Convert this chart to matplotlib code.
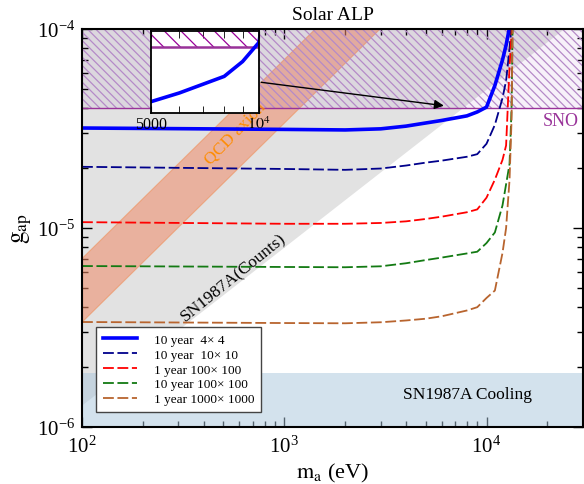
import numpy as np
import matplotlib as mpl
mpl.use('Agg')
import matplotlib.pyplot as plt
from matplotlib.ticker import LogLocator, NullFormatter, FixedLocator, FixedFormatter

mpl.rcParams.update({'font.family': 'serif',
                     'font.serif': ['Liberation Serif', 'DejaVu Serif'],
                     'mathtext.fontset': 'stix',
                     'hatch.linewidth': 0.9})

# axion mass grid (eV) for the sensitivity curves
mass = [100, 1000, 2000, 3000, 4000, 5000, 6000, 8000, 9000, 1.0e4, 1.1e4, 1.2e4, 1.25e4, 1.3e4, 1.33e4, 1.35e4]

g_10y_4 = [3.18e-5, 3.13e-5, 3.11e-5, 3.15e-5, 3.25e-5, 3.37e-5, 3.47e-5, 3.66e-5, 3.83e-5, 4.05e-5, 5.2e-5, 7.0e-5, 8.3e-5, 1.02e-4, 1.2e-4, 1.4e-4]
g_10y_10 = [2.03e-5, 1.98e-5, 1.96e-5, 1.99e-5, 2.06e-5, 2.13e-5, 2.18e-5, 2.28e-5, 2.35e-5, 2.65e-5, 3.3e-5, 4.5e-5, 5.5e-5, 8.0e-5, 1.05e-4, 1.3e-4]
g_1y_100 = [1.07e-5, 1.05e-5, 1.05e-5, 1.06e-5, 1.08e-5, 1.11e-5, 1.14e-5, 1.2e-5, 1.24e-5, 1.42e-5, 1.75e-5, 2.2e-5, 2.6e-5, 6.5e-5, 9.5e-5, 1.3e-4]
g_10y_100 = [6.44e-6, 6.37e-6, 6.35e-6, 6.42e-6, 6.65e-6, 6.9e-6, 7.1e-6, 7.45e-6, 7.6e-6, 8.4e-6, 9.5e-6, 1.3e-5, 1.66e-5, 2.1e-5, 4.0e-5, 1.3e-4]
g_1y_1000 = [3.37e-6, 3.33e-6, 3.32e-6, 3.36e-6, 3.43e-6, 3.5e-6, 3.6e-6, 3.85e-6, 4.0e-6, 4.45e-6, 4.85e-6, 7.5e-6, 1.0e-5, 1.75e-5, 3.5e-5, 1.3e-4]

labels = ["10 year  4× 4", "10 year  10× 10", "1 year 100× 100", "10 year 100× 100", "1 year 1000× 1000"]
colors = ["#0000ff", "#00008b", "#ff0000", "#137a13", "#b8642e"]

# existing bounds
sno_g = 4e-5
solar_top = 1e-4
cooling_g = 1.87e-6
counts_m = [100, 2.43e4]
counts_g = [1.28e-6, 1e-4]
qcd_m = [100, 3000]
qcd_lo = [3.4e-6, 1.02e-4]
qcd_hi = [7.1e-6, 2.13e-4]

xlim = (100, 3e4)
ylim = (1e-6, 1e-4)


def draw_bounds(ax, gray, hatch, hatch_col, face_alpha, sno_lw):
    ax.fill([counts_m[0], counts_m[1], counts_m[0]], [counts_g[0], counts_g[1], counts_g[1]],
            color=gray, lw=0, zorder=1)
    if face_alpha > 0:
        ax.fill_between(xlim, [sno_g, sno_g], [solar_top, solar_top], color='#9b59b6',
                        alpha=face_alpha, lw=0, zorder=3)
    ax.fill_between(xlim, [sno_g, sno_g], [solar_top, solar_top], facecolor='none',
                    edgecolor=hatch_col, hatch=hatch, lw=0, zorder=3)
    ax.axhline(sno_g, color='#993399', lw=sno_lw, zorder=4)


fig = plt.figure(figsize=(5.84, 4.85), dpi=100)
ax = fig.add_axes([82/584, 1-428/485, 501/584, 398/485])

draw_bounds(ax, '#e2e2e2', '\\\\\\\\', '#b58ac8', 0.08, 1.0)
ax.fill_between(xlim, [ylim[0], ylim[0]], [cooling_g, cooling_g], color='#a9c6dc', alpha=0.5, lw=0, zorder=2)
ax.fill_between(qcd_m, qcd_lo, qcd_hi, facecolor='#f08a66', alpha=0.55, edgecolor='#f08a50', lw=0.8, zorder=2)

series = [g_10y_4, g_10y_10, g_1y_100, g_10y_100, g_1y_1000]
for i, g in enumerate(series):
    if i == 0:
        ax.plot(mass, g, color=colors[i], lw=2.6, label=labels[i], zorder=6)
    else:
        ax.plot(mass, g, color=colors[i], lw=1.3, dashes=(6, 2), label=labels[i], zorder=6)

ax.set_xscale('log')
ax.set_yscale('log')
ax.set_xlim(*xlim)
ax.set_ylim(*ylim)
ax.tick_params(which='both', direction='in', top=True, right=True, labelsize=15)
ax.tick_params(which='major', length=7, width=1)
ax.tick_params(which='minor', length=4, width=1)
ax.tick_params(axis='y', pad=5)
ax.tick_params(axis='x', pad=6)
ax.xaxis.set_minor_locator(LogLocator(base=10, subs=np.arange(2, 10)))
ax.yaxis.set_minor_locator(LogLocator(base=10, subs=np.arange(2, 10)))
ax.xaxis.set_minor_formatter(NullFormatter())
ax.yaxis.set_minor_formatter(NullFormatter())
for sp in ax.spines.values():
    sp.set_linewidth(1.5)
    sp.set_zorder(10)

ax.set_xlabel(r'$\mathrm{m_a}$ (eV)', fontsize=16, labelpad=3)
ax.set_ylabel(r'$\mathrm{g_{ap}}$', fontsize=18, labelpad=2)

ax.text(0.5, 1.015, 'Solar ALP', transform=ax.transAxes, ha='center', va='bottom', fontsize=14)
ax.text(1.9e4, 3.45e-5, 'SNO', color='#993399', fontsize=13, ha='left', va='center')
ax.text(8050, 1.47e-6, 'SN1987A Cooling', fontsize=12.5, ha='center', va='center', zorder=5)
ax.text(561, 5.68e-6, 'SN1987A(Counts)', fontsize=12.5, ha='center', va='center', rotation=39, zorder=5)
ax.text(570, 3.0e-5, 'QCD axion', color='#ff8c00', fontsize=12.5, ha='center', va='center', rotation=46, zorder=5)

ax.annotate('', xy=(6350, 4.1e-5), xytext=(745, 5.42e-5),
            arrowprops=dict(arrowstyle='-|>', color='black', lw=1, mutation_scale=14), zorder=7)

leg = ax.legend(loc='lower left', bbox_to_anchor=(0.028, 0.038), borderaxespad=0, fontsize=9.5,
                fancybox=False, framealpha=1, edgecolor='#444444', handlelength=2.6,
                handletextpad=1.3, labelspacing=0.2, borderpad=0.5)
leg.set_zorder(12)

# zoomed view of the kink near 10 keV
ins = fig.add_axes([151/584, 1-114/485, 108/584, 82/485])
draw_bounds(ins, '#c0c0c0', '\\\\', '#990099', 0, 1.8)
ins.plot(mass, g_10y_4, color=colors[0], lw=2.6, zorder=6)
ins.set_xscale('log')
ins.set_xlim(5000, 1e4)
ins.set_ylim(3.24e-5, 4.18e-5)
ins.xaxis.set_major_locator(FixedLocator([5000, 1e4]))
ins.xaxis.set_major_formatter(FixedFormatter(['5000', r'$10^4$']))
ins.xaxis.set_minor_locator(FixedLocator([6000, 7000, 8000, 9000]))
ins.xaxis.set_minor_formatter(NullFormatter())
ins.set_yticks([])
ins.tick_params(which='both', direction='in', top=True, labelsize=11.5, pad=2)
ins.tick_params(which='major', length=5)
ins.tick_params(which='minor', length=5)
for sp in ins.spines.values():
    sp.set_linewidth(1.3)
    sp.set_zorder(10)

fig.savefig('out.png', dpi=100)
